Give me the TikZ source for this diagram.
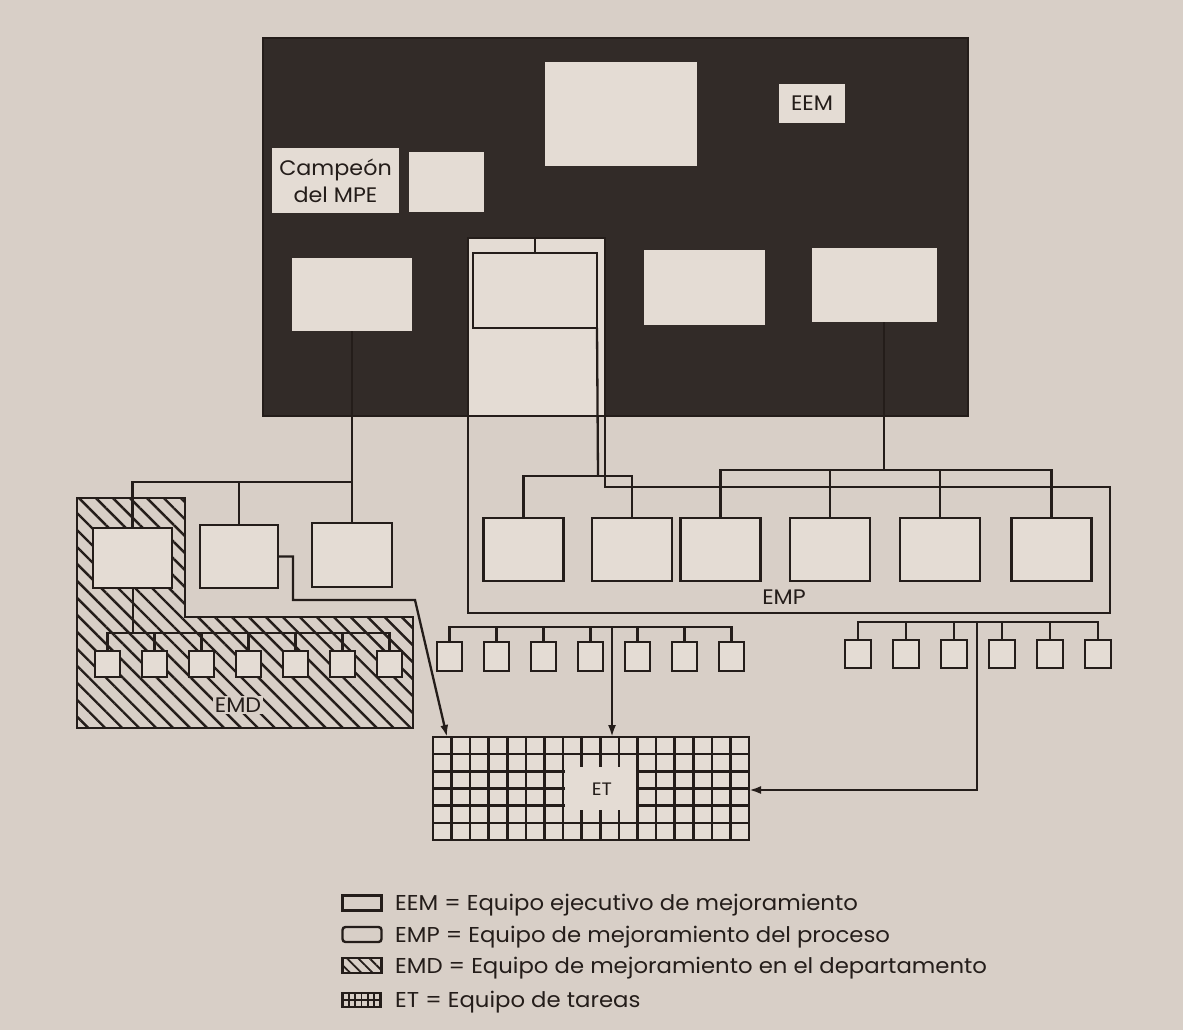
\documentclass[tikz,border=0pt]{standalone}
\usepackage{fontspec}
\newfontfamily\pop{Poppins}[FakeStretch=1.06]
\usetikzlibrary{arrows.meta,patterns.meta,calc}
\definecolor{paper}{RGB}{216,207,199}
\definecolor{boxc}{RGB}{228,220,212}
\definecolor{ink}{RGB}{36,29,26}
\definecolor{dark}{RGB}{50,43,40}
\begin{document}
\begin{tikzpicture}[x=1pt,y=-1pt,line join=miter,
  ln/.style={draw=ink,line width=2.3pt},
  bx/.style={draw=ink,line width=2.3pt,fill=boxc,inner sep=0pt,outer sep=0pt},
  wbox/.style={fill=boxc,draw=none,inner sep=0pt,outer sep=0pt},
  arr/.style={ln,-{Latex[length=12pt,width=8pt]}},
  lbl/.style={font=\pop\fontsize{21}{27}\selectfont,text=ink},
  leg/.style={font=\pop\fontsize{21.5}{24}\selectfont,text=ink,anchor=base west,inner sep=0pt},
  gridln/.style={draw=ink,line width=2.6pt},
  hatch/.style={pattern={Lines[angle=-45,distance=12pt,line width=2.4pt]},pattern color=ink}
]
\fill[paper] (0,0) rectangle (1183,1030);
\useasboundingbox (0,0) rectangle (1183,1030);

% ---------- EEM block ----------
\node[fill=dark,draw=ink,line width=1.5pt,minimum width=705pt,minimum height=378pt,inner sep=0pt] (eem) at (615.5,227) {};
\node[wbox,minimum width=152pt,minimum height=104pt] (top) at (621,114) {};
\node[wbox,minimum width=66pt,minimum height=39pt,lbl] (eemlbl) at (812,103.5) {EEM};
\node[wbox,minimum width=127pt,minimum height=65pt,align=center,lbl] (camp) at (335.5,180.5) {Campeón\\del MPE};
\node[wbox,minimum width=75pt,minimum height=60pt] (champ) at (446.5,182) {};
\node[wbox,minimum width=120pt,minimum height=73pt] (r1) at (352,294.5) {};
\node[wbox,minimum width=121pt,minimum height=75pt] (r3) at (704.5,287.5) {};
\node[wbox,minimum width=125pt,minimum height=74pt] (r4) at (874.5,285) {};
\node[bx,minimum width=137pt,minimum height=178pt] (col) at (536.5,327) {};
\node[bx,minimum width=124pt,minimum height=75pt] (r2) at (535,290.5) {};
\draw[ln] (r2.north |- col.north) -- (r2.north);

% ---------- EMP outline ----------
\draw[ln] (col.south west) -- (468,613) -- (1110,613) -- (1110,487) -- (605,487) -- (col.south east);
\node[lbl] (emplbl) at (784,597) {EMP};

% ---------- EMD region ----------
\draw[ln,hatch] (77,498) -- (185,498) -- (185,617) -- (413,617) -- (413,728) -- (77,728) -- cycle;
\node[bx,minimum width=79pt,minimum height=60pt] (e1) at (132.5,558) {};
\node[bx,minimum width=78pt,minimum height=63pt] (e2) at (239,556.5) {};
\node[bx,minimum width=80pt,minimum height=64pt] (e3) at (352,555) {};
\foreach \k in {1,...,7} {
  \node[bx,minimum width=25pt,minimum height=26pt] (d\k) at ({107.5+47*(\k-1)},664) {};
}
\node[lbl,fill=paper,inner sep=2pt] (emdlbl) at (238,705) {EMD};

\coordinate (jA) at (352,482);
\draw[ln] (r1.south) -- (e3.north);
\draw[ln] (e1.north) |- (jA);
\draw[ln] (e2.north) -- (e2.north |- jA);
\coordinate (jD) at (133,633);
\draw[ln] (e1.south -| jD) -- (jD);
\draw[ln] (d1.north) |- (d7.north |- jD) -- (d7.north);
\foreach \k in {2,...,6} { \draw[ln] (d\k.north) -- (d\k.north |- jD); }

% ---------- EMP boxes ----------
\foreach \k/\cx in {1/523.5,2/632,3/720.5,4/830,5/940,6/1051.5} {
  \node[bx,minimum width=80pt,minimum height=63pt] (p\k) at (\cx,549.5) {};
}
\coordinate (jB) at (598,476);
\draw[ln] (r2.south east) -- (jB);
\draw[ln] (p1.north) |- (p2.north |- jB) -- (p2.north);
\coordinate (jC) at (884,470);
\draw[ln] (r4.south -| jC) -- (jC);
\draw[ln] (p3.north) |- (p6.north |- jC) -- (p6.north);
\draw[ln] (p4.north) -- (p4.north |- jC);
\draw[ln] (p5.north) -- (p5.north |- jC);

% ---------- small box groups ----------
\foreach \k in {1,...,7} {
  \node[bx,minimum width=25pt,minimum height=29pt] (s\k) at ({449.5+47*(\k-1)},656.5) {};
}
\coordinate (jS) at (612,627);
\draw[ln] (s1.north) |- (s7.north |- jS) -- (s7.north);
\foreach \k in {2,...,6} { \draw[ln] (s\k.north) -- (s\k.north |- jS); }
\foreach \k in {1,...,6} {
  \node[bx,minimum width=26pt,minimum height=28pt] (t\k) at ({858+48*(\k-1)},654) {};
}
\coordinate (jT) at (977,622);
\draw[ln] (t1.north) |- (t6.north |- jT) -- (t6.north);
\foreach \k in {2,...,5} { \draw[ln] (t\k.north) -- (t\k.north |- jT); }

% ---------- ET grid ----------
\node[fill=boxc,gridln,minimum width=316pt,minimum height=103pt,inner sep=0pt] (et) at (591,788.5) {};
\foreach \k in {1,...,16} { \draw[gridln] ({433+18.588*\k},737) -- ({433+18.588*\k},840); }
\foreach \j in {1,...,5} { \draw[gridln] (433,{737+17.167*\j}) -- (749,{737+17.167*\j}); }
\fill[boxc] (565,756) rectangle (635.6,821);
\foreach \k in {8,9,10} {
  \draw[gridln] ({433+18.588*\k},754.2) -- ({433+18.588*\k},767);
  \draw[gridln] ({433+18.588*\k},810) -- ({433+18.588*\k},822.8);
}
\node[lbl,font=\pop\fontsize{18}{20}\selectfont] (etlbl) at (602,789) {ET};

% ---------- arrows to ET ----------
\coordinate (tipA) at (447,737);
\draw[arr] (e2.east) -- (293,556.5) -- (293,600) -- (415,600) -- (tipA);
\coordinate (tipB) at (612,737);
\draw[arr] (jS) -- (tipB);
\coordinate (tipC) at (749,790);
\draw[arr] (jT) |- (tipC);

% ---------- legend ----------
\node[draw=ink,line width=3pt,minimum width=39pt,minimum height=15pt,inner sep=0pt] (i1) at (362,903) {};
\node[draw=ink,line width=2.4pt,rounded corners=3pt,minimum width=39pt,minimum height=15pt,inner sep=0pt] (i2) at (362,934.5) {};
\node[draw=ink,line width=2.4pt,minimum width=39pt,minimum height=15pt,inner sep=0pt,pattern={Lines[angle=-45,distance=8pt,line width=1.8pt]},pattern color=ink] (i3) at (362,965.5) {};
\node[draw=ink,line width=2.4pt,minimum width=38pt,minimum height=14pt,inner sep=0pt] (i4) at (361.5,1000) {};
\foreach \k in {1,...,5} { \draw[ink,line width=1.9pt] ({342.5+6.33*\k},993) -- ({342.5+6.33*\k},1007); }
\draw[ink,line width=1.7pt] (342.5,1000) -- (380.5,1000);
\node[leg] (l1) at (395,910) {EEM = Equipo ejecutivo de mejoramiento};
\node[leg] (l2) at (395,942) {EMP = Equipo de mejoramiento del proceso};
\node[leg] (l3) at (395,973) {EMD = Equipo de mejoramiento en el departamento};
\node[leg] (l4) at (395,1007) {ET = Equipo de tareas};
\end{tikzpicture}
\end{document}
